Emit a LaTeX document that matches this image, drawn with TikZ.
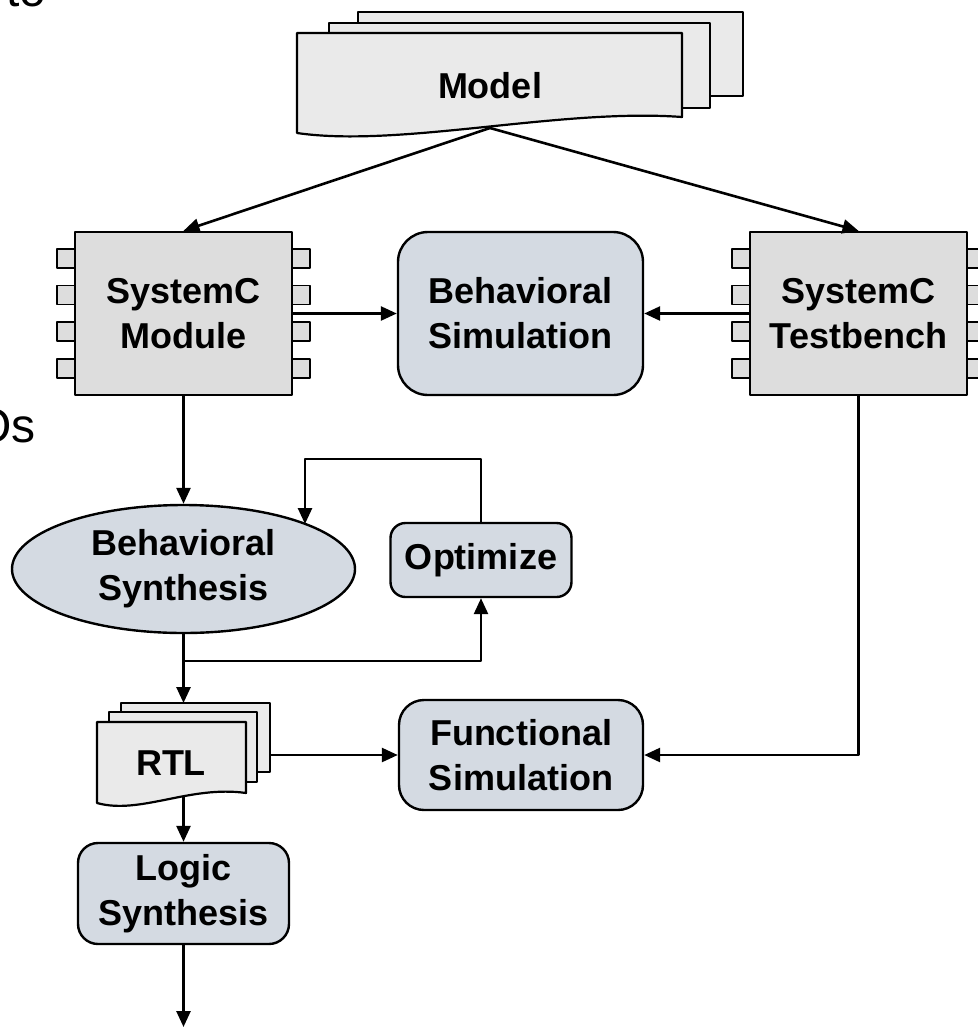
\documentclass[tikz,border=0pt]{standalone}
\usepackage{fontspec}
\setmainfont{Liberation Sans}
\usetikzlibrary{arrows.meta,shapes.geometric}
\definecolor{sheetfill}{RGB}{234,234,234}
\definecolor{modfill}{RGB}{221,221,221}
\definecolor{procfill}{RGB}{212,218,226}
\begin{document}
\begin{tikzpicture}[x=1pt,y=-1pt, line join=round,
  lbl/.style={font=\bfseries\fontsize{36}{45}\selectfont, align=center, text=black},
  sheet/.style={draw=black, line width=2.2pt, fill=sheetfill},
  modbox/.style={draw, line width=2.4pt, fill=modfill, minimum width=217pt, minimum height=163pt, lbl, inner sep=0pt},
  pinbox/.style={draw, line width=1.8pt, fill=modfill},
  proc/.style={draw, line width=2.4pt, fill=procfill, lbl, inner sep=0pt},
  arr/.style={line width=2.6pt, -{Triangle[length=16pt,width=14pt]}},
  wire/.style={line width=2.6pt},
  big/.style={font=\fontsize{48}{56}\selectfont, inner sep=0pt}]
\useasboundingbox (0,0) rectangle (978,1029);
\clip (0,0) rectangle (978,1029);
\fill[white] (0,0) rectangle (978,1029);

% cut-off slide text
\node[big, anchor=base west] (to) at (6,6) {to};
\node[big, anchor=base east] (os) at (36,442) {Os};

% Model document stack
\draw[sheet] (358,12) rectangle (743,96);
\draw[sheet] (329,23) rectangle (710,108);
\draw[sheet] (297,33) -- (682,33) -- (682,117) .. controls (560,108) and (400,148) .. (297,133) -- cycle;
\node[lbl, anchor=base] (model) at (490,98) {Model};
\coordinate (mdl) at (490,128);

% pins
\foreach \py in {258.5,295,331.5,368.5} {
  \draw[pinbox] (57,\py-9.5) rectangle (75,\py+9.5);
  \draw[pinbox] (292,\py-9.5) rectangle (310,\py+9.5);
  \draw[pinbox] (732,\py-9.5) rectangle (750,\py+9.5);
  \draw[pinbox] (967,\py-9.5) rectangle (985,\py+9.5);
}
\node[modbox] (mod) at (183.5,313.5) {SystemC\\Module};
\node[modbox] (tb) at (858.5,313.5) {SystemC\\Testbench};

\node[proc, rounded corners=30pt, minimum width=245pt, minimum height=163pt] (bsim) at (520.5,313.5) {Behavioral\\Simulation};

\node[ellipse, draw, line width=2.4pt, fill=procfill, minimum width=343pt, minimum height=128pt, lbl, inner sep=0pt] (bsyn) at (183.5,569) {Behavioral\\Synthesis};
\node[proc, rounded corners=15pt, minimum width=181pt, minimum height=74pt] (opt) at (481,560) {Optimize};

% RTL document stack
\draw[sheet] (121,703) rectangle (270,772);
\draw[sheet] (109,712) rectangle (257,782);
\draw[sheet] (97,722) -- (246,722) -- (246,793) .. controls (190,785) and (140,815) .. (97,803) -- cycle;
\node[lbl, anchor=base] (rtl) at (171,775) {RTL};

\node[proc, rounded corners=25pt, minimum width=244pt, minimum height=110pt] (fun) at (521,755) {Functional\\Simulation};
\node[proc, rounded corners=20pt, minimum width=211pt, minimum height=101pt] (logic) at (183.5,893.5) {Logic\\Synthesis};

% connectors
\draw[arr] (mdl) -- (mod.north);
\draw[arr] (mdl) -- (tb.north);
\draw[arr] (mod.east) -- (bsim.west);
\draw[arr] (tb.west) -- (bsim.east);
\draw[arr] (mod.south) -- (bsyn.north);
\coordinate (fbtop) at (305,459);
\coordinate (fbend) at (305,524);
\draw[arr] (opt.north) |- (fbtop) -- (fbend);
\coordinate (br) at (183.5,661);
\draw[wire] (bsyn.south) -- (br);
\draw[arr] (br) -| (opt.south);
\coordinate (rtltop) at (183.5,703);
\draw[arr] (br) -- (rtltop);
\coordinate (rtlright) at (270,755);
\draw[arr] (rtlright) -- (fun.west);
\draw[arr] (tb.south) |- (fun.east);
\coordinate (rtlbot) at (183.5,796);
\draw[arr] (rtlbot) -- (logic.north);
\coordinate (out) at (183.5,1027);
\draw[arr] (logic.south) -- (out);
\end{tikzpicture}
\end{document}
